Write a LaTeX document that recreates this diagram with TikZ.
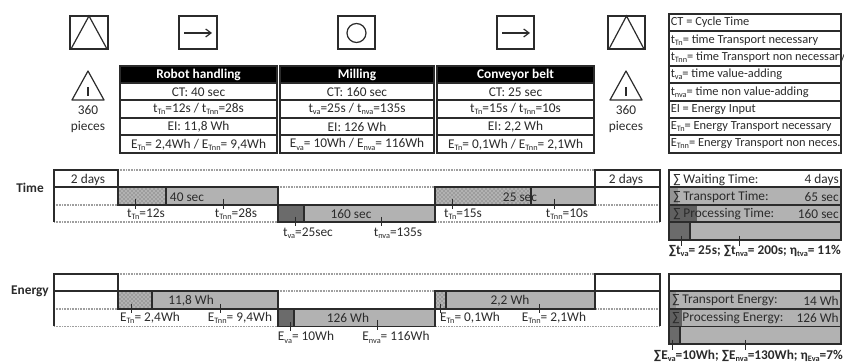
\documentclass[tikz,border=0pt]{standalone}
\usepackage{fontspec}
\setmainfont{Carlito}
\usetikzlibrary{patterns,arrows.meta}
\definecolor{ink}{gray}{0.17}
\definecolor{midg}{gray}{0.7}
\definecolor{darkg}{gray}{0.42}
\tikzset{
 x=0.75pt,y=-0.75pt,
 every node/.style={font=\fontsize{10}{11}\selectfont,text=ink,inner sep=0pt},
 ln/.style={draw=ink,line width=0.9pt},
 dot/.style={draw=gray!75,line width=0.9pt,dash pattern=on 0.7pt off 0.5pt},
 gbar/.style={fill=midg,draw=ink,line width=0.9pt},
 dbar/.style={fill=darkg,draw=ink,line width=0.9pt},
 tick/.style={draw=ink,line width=0.5pt},
 tcell/.style={fill=white,draw=ink,line width=0.9pt},
 bd/.style={font=\fontsize{10}{11}\selectfont\bfseries},
 legtext/.style={font=\fontsize{9.3}{10}\selectfont,anchor=west},
}
\newcommand{\hatchrect}[4]{\fill[midg] (#1,#2) rectangle (#3,#4);\fill[pattern=crosshatch dots,pattern color=gray!70!black] (#1,#2) rectangle (#3,#4);\draw[ln] (#1,#2) rectangle (#3,#4);}
\newcommand{\sbs}[1]{\raisebox{-0.35ex}{\fontsize{6.2}{7}\selectfont #1}}
\newcommand{\tabcol}[8]{%
 \fill[black] (#1,66) rectangle (#2,83);
 \foreach \a/\b in {83/100,100/118,118/135,135/153}{\draw[tcell] (#1,\a) rectangle (#2,\b);}
 \draw[ln] (#1,66) rectangle (#2,153);
 \node[bd,text=white] (#3h) at ({(#1+#2)/2},75) {#4};
 \node (#3a) at ({(#1+#2)/2},92.5) {#5};
 \node (#3b) at ({(#1+#2)/2},109) {#6};
 \node (#3c) at ({(#1+#2)/2},127) {#7};
 \node (#3d) at ({(#1+#2)/2},144.5) {#8};
}
\begin{document}
\begin{tikzpicture}
\useasboundingbox (0,0) rectangle (844,363);
% icons
\draw[ln] (70,16) rectangle (108,49);
\draw[ln] (71,49) -- (89,16) -- (107,49);
\draw[ln] (179,16) rectangle (217,49);
\draw[ln,-{Straight Barb[length=4pt,width=6pt]}] (184,33) -- (212,33);
\draw[ln] (338,16) rectangle (375,49);
\draw[ln] (356.5,33) circle (9.5);
\draw[ln] (497,16) rectangle (534,49);
\draw[ln,-{Straight Barb[length=4pt,width=6pt]}] (502,33) -- (530,33);
\draw[ln] (608,16) rectangle (645,49);
\draw[ln] (609,49) -- (626.5,16) -- (644,49);
\foreach \cx/\nm in {88/a,626/b}{
 \draw[ln,line join=round] (\cx-16,100) -- (\cx,71) -- (\cx+16,100) -- cycle;
 \draw[draw=ink,line width=1.3pt] (\cx,87) -- (\cx,96);
 \node (n360\nm) at (\cx,110) {360};
 \node (pcs\nm) at (\cx,127) {pieces};
}
% process tables
\tabcol{120}{277}{ra}{Robot handling}{CT: 40 sec}{t\sbs{Tn}=12s / t\sbs{Tnn}=28s}{EI: 11,8 Wh}{E\sbs{Tn}= 2,4Wh / E\sbs{Tnn}= 9,4Wh}
\tabcol{280}{434}{rb}{Milling}{CT: 160 sec}{t\sbs{va}=25s / t\sbs{nva}=135s}{EI: 126 Wh}{E\sbs{va}= 10Wh / E\sbs{nva}= 116Wh}
\tabcol{437}{594}{rc}{Conveyor belt}{CT: 25 sec}{t\sbs{Tn}=15s / t\sbs{Tnn}=10s}{EI: 2,2 Wh}{E\sbs{Tn}= 0,1Wh / E\sbs{Tnn}= 2,1Wh}
% legend
\foreach \a/\b/\t in {14/31/{CT = Cycle Time},31/49/{t\sbs{Tn}= time Transport necessary},49/66/{t\sbs{Tnn}= time Transport non necessary},66/83/{t\sbs{va}= time value-adding},83/101/{t\sbs{nva}= time non value-adding},101/118/{EI = Energy Input},118/135/{E\sbs{Tn}= Energy Transport necessary},135/153/{E\sbs{Tnn}= Energy Transport non neces.}}{
 \draw[tcell] (669,\a) rectangle (841,\b);
 \node[legtext] (leg\a) at (670.5,{(\a+\b)/2}) {\t};
}
% row labels
\node[bd] (timelab) at (30,187.5) {Time};
\node[bd] (enlab) at (30,291.5) {Energy};
% TIME
\foreach \y in {170,187,205,222}{\draw[dot] (118,\y) -- (660,\y);}
\draw[dot] (54,222) -- (118,222);
\draw[dot] (54,205) -- (118,205);
\draw[ln] (54,222) -- (54,170) -- (118,170) -- (118,205);
\draw[ln] (54,187) -- (118,187);
\draw[ln] (595,205) -- (595,170) -- (660,170) -- (660,222);
\draw[ln] (595,187) -- (660,187);
\node (d2a) at (88,179.5) {2 days};
\node (d2b) at (626,179.5) {2 days};
\draw[gbar] (118,187) rectangle (278,205);
\hatchrect{118}{187}{166}{205}
\node (t40) at (187,197) {40 sec};
\draw[gbar] (278,205) rectangle (435,222);
\draw[dbar] (278,205) rectangle (304,222);
\node (t160) at (351,214) {160 sec};
\draw[gbar] (435,187) rectangle (595,205);
\hatchrect{435}{187}{531}{205}
\node (t25) at (520,197) {25 sec};
\foreach \x/\ya/\yb in {135/199/209,223/199/209,295/217/226,381/217/226,452/199/209,554/199/209}{\draw[tick] (\x,\ya) -- (\x,\yb);}
\node (l1) at (146,214) {t\sbs{Tn}=12s};
\node (l2) at (236,214) {t\sbs{Tnn}=28s};
\node (l3) at (308,233.5) {t\sbs{va}=25sec};
\node (l4) at (398,233.5) {t\sbs{nva}=135s};
\node (l5) at (463,214) {t\sbs{Tn}=15s};
\node (l6) at (567,214) {t\sbs{Tnn}=10s};
% ENERGY
\foreach \y in {274,291,309,326.5}{\draw[dot] (118,\y) -- (660,\y);}
\draw[dot] (54,326.5) -- (118,326.5);
\draw[dot] (54,309) -- (118,309);
\draw[ln] (54,326.5) -- (54,274) -- (118,274) -- (118,309);
\draw[ln] (54,291) -- (118,291);
\draw[ln] (595,309) -- (595,274) -- (660,274) -- (660,326.5);
\draw[ln] (595,291) -- (660,291);
\draw[gbar] (118,291) rectangle (278,309);
\hatchrect{118}{291}{152}{309}
\node (e1) at (191,300.5) {11,8 Wh};
\draw[gbar] (278,309) rectangle (435,326.5);
\draw[dbar] (278,309) rectangle (294,326.5);
\node (e2) at (348,317.5) {126 Wh};
\draw[gbar] (435,291) rectangle (595,309);
\hatchrect{435}{291}{446}{309}
\node (e3) at (510,300.5) {2,2 Wh};
\foreach \x/\ya/\yb in {131/304/313,220/304/313,290/322/331,377/320/330,440/304/313,539/304/313}{\draw[tick] (\x,\ya) -- (\x,\yb);}
\node (m1) at (150,317.5) {E\sbs{Tn}= 2,4Wh};
\node (m2) at (240,317.5) {E\sbs{Tnn}= 9,4Wh};
\node (m3) at (306,337.5) {E\sbs{va}= 10Wh};
\node (m4) at (396,337.5) {E\sbs{nva}= 116Wh};
\node (m5) at (470,317.5) {E\sbs{Tn}= 0,1Wh};
\node (m6) at (554,317.5) {E\sbs{Tnn}= 2,1Wh};
% SUMMARY TIME
\draw[ln] (669,170) rectangle (841,187);
\draw[gbar] (669,187) rectangle (841,205);
\draw[gbar] (669,205) rectangle (841,222);
\draw[gbar] (669,222) rectangle (841,240);
\fill[gray!60!midg] (669,187) rectangle (678,205);
\fill[gray!75!black] (669,205) rectangle (697,222);
\draw[ln] (669,187) rectangle (841,205);
\draw[ln] (669,205) rectangle (841,222);
\draw[dbar] (669,222) rectangle (690,240);
\node[anchor=west] (s1) at (673,180) {∑ Waiting Time:};
\node[anchor=east] (s1v) at (839,180) {4 days};
\node[anchor=west] (s2) at (673,197) {∑ Transport Time:};
\node[anchor=east] (s2v) at (839,197) {65 sec};
\node[anchor=west] (s3) at (673,214) {∑ Processing Time:};
\node[anchor=east] (s3v) at (839,214) {160 sec};
\foreach \x in {681,739}{\draw[tick] (\x,236) -- (\x,246);}
\node[bd,anchor=east] (s4) at (841,251) {∑t\sbs{va}= 25s; ∑t\sbs{nva}= 200s; η\sbs{tva}= 11\%};
% SUMMARY ENERGY
\draw[ln] (669,274) rectangle (841,291);
\draw[gbar] (669,291) rectangle (841,309);
\draw[gbar] (669,309) rectangle (841,326.5);
\draw[gbar] (669,326.5) rectangle (841,344);
\fill[gray!60!midg] (669,291) rectangle (676,309);
\fill[gray!75!black] (669,309) rectangle (682,326.5);
\draw[ln] (669,291) rectangle (841,309);
\draw[ln] (669,309) rectangle (841,326.5);
\draw[dbar] (669,326.5) rectangle (680,344);
\node[anchor=west] (u1) at (672,300.5) {∑ Transport Energy:};
\node[anchor=east] (u1v) at (839,300.5) {14 Wh};
\node[anchor=west] (u2) at (672,318) {∑ Processing Energy:};
\node[anchor=east] (u2v) at (839,318) {126 Wh};
\foreach \x in {672,745}{\draw[tick] (\x,340) -- (\x,350);}
\node[bd,anchor=east] (u3) at (843,356) {∑E\sbs{va}=10Wh; ∑E\sbs{nva}=130Wh; η\sbs{Eva}=7\%};
\end{tikzpicture}
\end{document}
